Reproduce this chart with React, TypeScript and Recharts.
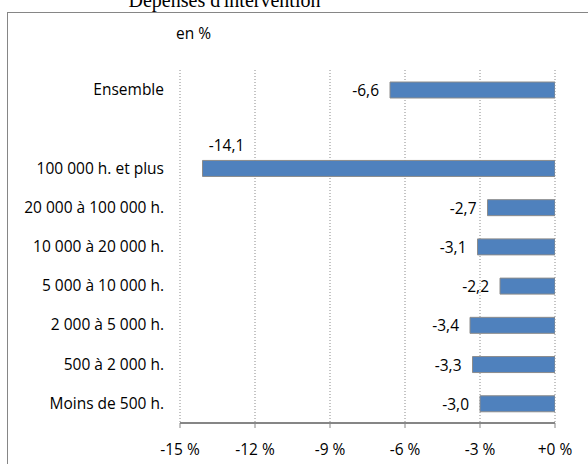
import {
  BarChart,
  Bar,
  XAxis,
  YAxis,
  CartesianGrid,
  LabelList,
} from "recharts"

// top to bottom, the empty slot separates "Ensemble" from the strata
const categories = [
  "Ensemble",
  "",
  "100 000 h. et plus",
  "20 000 à 100 000 h.",
  "10 000 à 20 000 h.",
  "5 000 à 10 000 h.",
  "2 000 à 5 000 h.",
  "500 à 2 000 h.",
  "Moins de 500 h.",
]
const values: Array<number | null> = [-6.6, null, -14.1, -2.7, -3.1, -2.2, -3.4, -3.3, -3.0]
const xTicks = [-15, -12, -9, -6, -3, 0]
const boundaryTicks = [0, 1, 2, 3, 4, 5, 6, 7, 8, 9]

const data = categories.map((name, i) => ({ name, value: values[i] }))
const longest = Math.min(...values.filter((v): v is number => v != null))

const FONT = "'Open Sans', Lato, sans-serif"
const FS = 15.5
const AXIS_GRAY = "#868686"

const fmtPct = (v: number) => (v === 0 ? "+0 %" : `${v} %`)
const fmtVal = (v: number) => v.toFixed(1).replace(".", ",")

const ValueLabel = (props: any) => {
  const { x, y, width, height, value } = props
  if (value == null) return null
  const left = Math.min(Number(x), Number(x) + Number(width))
  const top = Math.min(Number(y), Number(y) + Number(height))
  const h = Math.abs(Number(height))
  // the long bar has its label above it
  if (value === longest) {
    return (
      <text x={left + 24} y={top - 15} textAnchor="middle" dominantBaseline="central"
        fontSize={FS} fontFamily={FONT} fill="#000">
        {fmtVal(value)}
      </text>
    )
  }
  return (
    <text x={left - 11} y={top + h / 2} textAnchor="end" dominantBaseline="central"
      fontSize={FS} fontFamily={FONT} fill="#000">
      {fmtVal(value)}
    </text>
  )
}

export default function App() {
  return (
    <div style={{ position: "fixed", left: 0, top: 0, width: 588, height: 464, overflow: "hidden", background: "#fff" }}>
      <div style={{
        position: "absolute", left: 0, top: -10, width: 449, textAlign: "center",
        fontFamily: "'Liberation Serif', 'Times New Roman', serif", fontSize: 20, lineHeight: "20px",
        whiteSpace: "nowrap",
      }}>
        Dépenses d'intervention
      </div>
      <div style={{
        position: "absolute", left: 7, top: 12, width: 640, height: 520,
        border: `1px solid ${AXIS_GRAY}`,
      }} />
      <div style={{
        position: "absolute", left: 176, top: 22, fontFamily: FONT, fontSize: FS,
      }}>
        en %
      </div>
      <div style={{ position: "absolute", left: 0, top: 0 }}>
        <BarChart
          width={588}
          height={464}
          data={data}
          layout="vertical"
          margin={{ top: 70, right: 33, bottom: 11, left: 8 }}
        >
          <CartesianGrid horizontal={false} stroke="#8a8a8a" strokeDasharray="1 2" />
          <XAxis
            type="number"
            domain={[-15, 0]}
            ticks={xTicks}
            tickFormatter={fmtPct}
            height={30}
            tickSize={5}
            tickMargin={16}
            stroke={AXIS_GRAY}
            axisLine={{ stroke: AXIS_GRAY, strokeWidth: 2 }}
            tickLine={{ stroke: AXIS_GRAY }}
            tick={{ fill: "#000", fontSize: FS, fontFamily: FONT }}
            allowDataOverflow
          />
          <YAxis
            type="category"
            dataKey="name"
            width={172}
            axisLine={false}
            tickLine={false}
            tickMargin={10}
            interval={0}
            tick={{ fill: "#000", fontSize: FS, fontFamily: FONT }}
          />
          <YAxis
            yAxisId="edge"
            type="number"
            orientation="right"
            domain={[0, 9]}
            ticks={boundaryTicks}
            width={0}
            mirror
            tickSize={5}
            tickFormatter={() => ""}
            axisLine={{ stroke: AXIS_GRAY, strokeWidth: 2 }}
            tickLine={{ stroke: AXIS_GRAY, strokeWidth: 1.5 }}
          />
          <Bar dataKey="value" fill="#4F81BD" stroke="#8c8c8c" strokeWidth={1} barSize={16} isAnimationActive={false}>
            <LabelList dataKey="value" content={ValueLabel} />
          </Bar>
        </BarChart>
      </div>
    </div>
  )
}
